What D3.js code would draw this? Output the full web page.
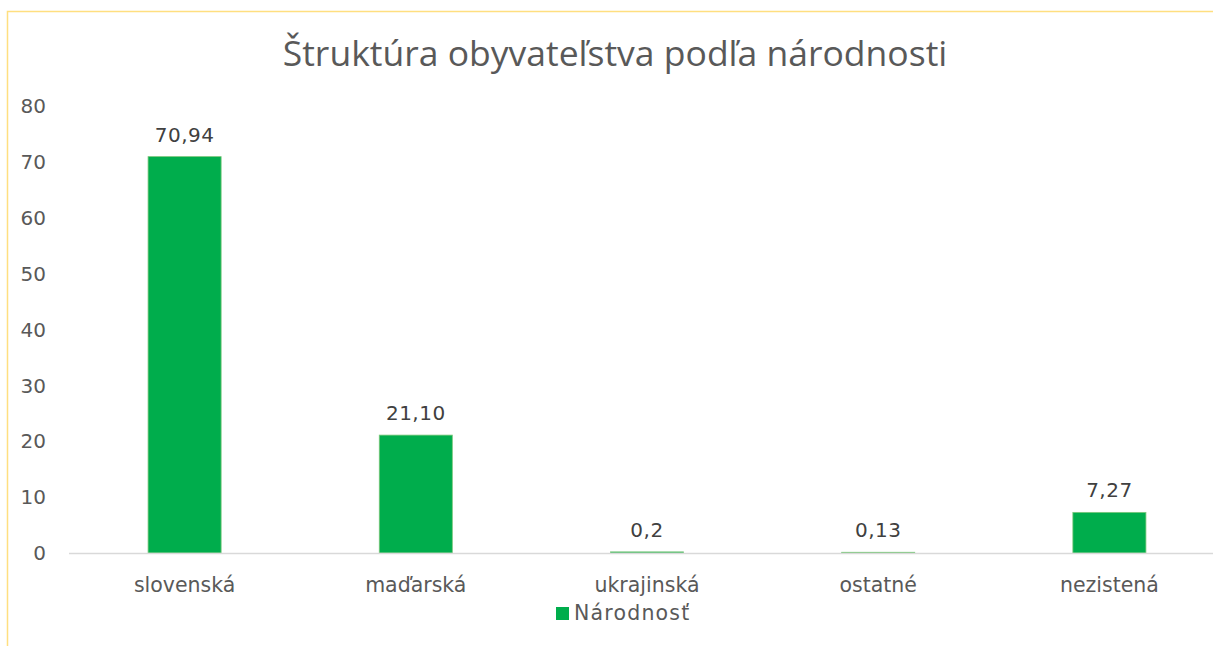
<!DOCTYPE html>
<meta charset="utf-8">
<style>
body { margin: 0; background: #fff; }
text { font-family: "DejaVu Sans", Tahoma, sans-serif; fill: #595959; }
.title { font-family: "Open Sans", sans-serif; }
</style>
<svg width="1213" height="646"></svg>
<script src="https://d3js.org/d3.v7.min.js"></script>
<script>

var categories = ["slovenská", "maďarská", "ukrajinská", "ostatné", "nezistená"];
var values = [70.94, 21.10, 0.2, 0.13, 7.27];
var valueLabels = ["70,94", "21,10", "0,2", "0,13", "7,27"];
var yTicks = [0, 10, 20, 30, 40, 50, 60, 70, 80];
var seriesName = "Národnosť";

var svg = d3.select("svg");

// chart frame
svg.append("rect")
    .attr("x", 7.5).attr("y", 11.5)
    .attr("width", 1230).attr("height", 660)
    .attr("fill", "none")
    .attr("stroke", "#FFDF80")
    .attr("stroke-width", 1.5);

var x = d3.scaleBand()
    .domain(categories)
    .range([69, 1225])
    .paddingInner(0.684)
    .paddingOuter(0.342);

var y = d3.scaleLinear()
    .domain([0, 80])
    .range([553, 106]);

svg.append("text")
    .attr("class", "title")
    .attr("x", 615).attr("y", 66)
    .attr("text-anchor", "middle")
    .attr("font-size", 35.5)
    .text("Štruktúra obyvateľstva podľa národnosti");

// y axis labels
svg.selectAll(".ytick")
    .data(yTicks)
    .enter().append("text")
    .attr("class", "ytick")
    .attr("x", 46)
    .attr("y", function(d){ return y(d); })
    .attr("dy", "0.36em")
    .attr("text-anchor", "end")
    .attr("font-size", 20)
    .text(function(d){ return d; });

svg.selectAll(".bar")
    .data(values)
    .enter().append("rect")
    .attr("class", "bar")
    .attr("x", function(d, i){ return x(categories[i]); })
    .attr("y", function(d){ return y(d); })
    .attr("width", x.bandwidth())
    .attr("height", function(d){ return y(0) - y(d); })
    .attr("fill", "#00AD4C")
    .attr("stroke", "#7BC77B")
    .attr("stroke-width", 0.8);

// baseline
svg.append("line")
    .attr("x1", 69).attr("x2", 1213)
    .attr("y1", y(0) + 0.5).attr("y2", y(0) + 0.5)
    .attr("stroke", "#D9D9D9")
    .attr("stroke-width", 1.5);

svg.selectAll(".vlabel")
    .data(values)
    .enter().append("text")
    .attr("class", "vlabel")
    .attr("x", function(d, i){ return x(categories[i]) + x.bandwidth() / 2; })
    .attr("y", function(d){ return y(d) - 15; })
    .attr("text-anchor", "middle")
    .attr("font-size", 20)
    .attr("letter-spacing", 0.5)
    .style("fill", "#404040")
    .text(function(d, i){ return valueLabels[i]; });

svg.selectAll(".xlabel")
    .data(categories)
    .enter().append("text")
    .attr("class", "xlabel")
    .attr("x", function(d){ return x(d) + x.bandwidth() / 2; })
    .attr("y", 592)
    .attr("text-anchor", "middle")
    .attr("font-size", 20.5)
    .text(function(d){ return d; });

// legend
svg.append("rect")
    .attr("x", 556).attr("y", 607)
    .attr("width", 13).attr("height", 13)
    .attr("fill", "#00AD4C");

svg.append("text")
    .attr("x", 574).attr("y", 620)
    .attr("font-size", 20.5)
    .attr("letter-spacing", 1.2)
    .text(seriesName);

</script>
